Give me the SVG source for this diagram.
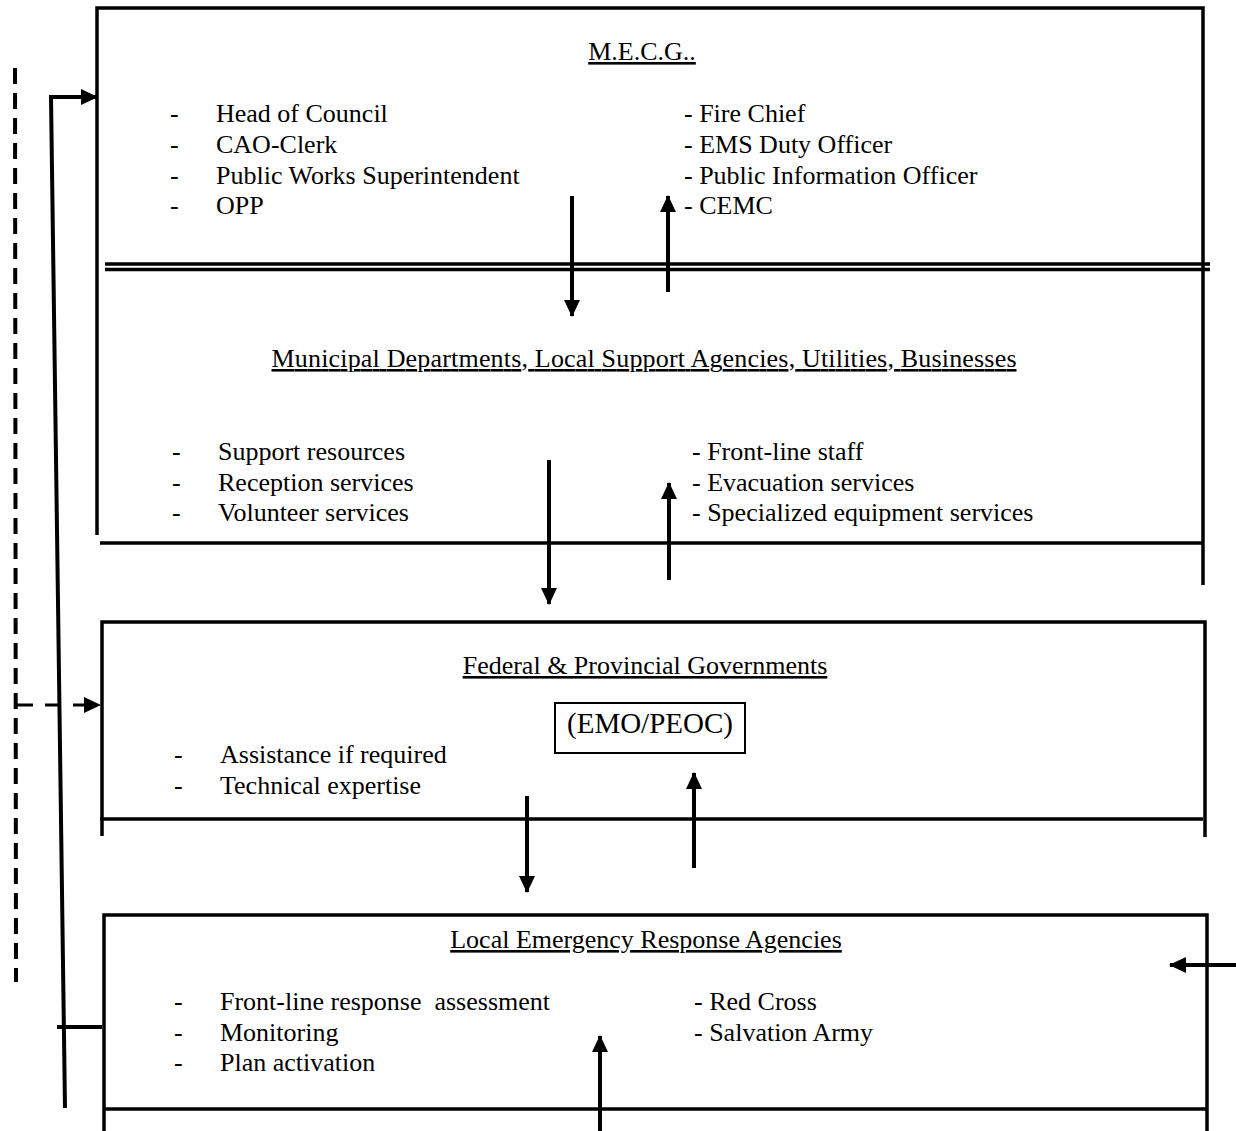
<svg xmlns="http://www.w3.org/2000/svg" width="1236" height="1131" viewBox="0 0 1236 1131">
<style>
text{font-family:"Liberation Serif","Times New Roman",serif;font-size:26px;fill:#000;white-space:pre}
.t{text-decoration:underline;text-anchor:middle}
.b{stroke:#000;stroke-width:3.5;fill:none}
.a{stroke:#000;stroke-width:4;fill:none}
</style>
<defs>
<marker id="ah" markerUnits="userSpaceOnUse" markerWidth="18" markerHeight="18" refX="16" refY="9" orient="auto">
<path d="M0,1 L17,9 L0,17 Z" fill="#000"/>
</marker>
</defs>
<rect width="1236" height="1131" fill="#fff"/>
<g id="mecg">
<path class="b" d="M97,535 V8 H1203 V585"/>
<line class="b" x1="105" y1="264" x2="1210" y2="264"/>
<line class="b" x1="105" y1="269.5" x2="1210" y2="269.5"/>
<text class="t" x="642" y="60">M.E.C.G..</text>
<text x="170" y="122">-</text><text x="216" y="122">Head of Council</text>
<text x="170" y="153">-</text><text x="216" y="153">CAO-Clerk</text>
<text x="170" y="184">-</text><text x="216" y="184">Public Works Superintendent</text>
<text x="170" y="214">-</text><text x="216" y="214">OPP</text>
<text x="684" y="122">- Fire Chief</text>
<text x="684" y="153">- EMS Duty Officer</text>
<text x="684" y="184">- Public Information Officer</text>
<text x="684" y="214">- CEMC</text>
</g>
<g id="municipal">
<line class="b" x1="100" y1="543" x2="1203" y2="543"/>
<text class="t" x="644" y="367" textLength="745">Municipal Departments, Local Support Agencies, Utilities, Businesses</text>
<text x="172" y="460">-</text><text x="218" y="460">Support resources</text>
<text x="172" y="491">-</text><text x="218" y="491">Reception services</text>
<text x="172" y="521">-</text><text x="218" y="521">Volunteer services</text>
<text x="692" y="460">- Front-line staff</text>
<text x="692" y="491">- Evacuation services</text>
<text x="692" y="521">- Specialized equipment services</text>
</g>
<g id="federal">
<path class="b" d="M102,836 V622 H1205 V837"/>
<line class="b" x1="100" y1="819" x2="1203" y2="819"/>
<text class="t" x="645" y="674">Federal &amp; Provincial Governments</text>
<rect x="555" y="703" width="190" height="50" fill="none" stroke="#000" stroke-width="2"/>
<text x="650" y="733" text-anchor="middle" style="font-size:29px">(EMO/PEOC)</text>
<text x="174" y="763">-</text><text x="220" y="763">Assistance if required</text>
<text x="174" y="794">-</text><text x="220" y="794">Technical expertise</text>
</g>
<g id="local">
<path class="b" d="M104,1131 V915 H1207 V1131"/>
<line class="b" x1="104" y1="1109" x2="1207" y2="1109"/>
<text class="t" x="646" y="948">Local Emergency Response Agencies</text>
<text x="174" y="1010">-</text><text x="220" y="1010">Front-line response  assessment</text>
<text x="174" y="1041">-</text><text x="220" y="1041">Monitoring</text>
<text x="174" y="1071">-</text><text x="220" y="1071">Plan activation</text>
<text x="694" y="1010">- Red Cross</text>
<text x="694" y="1041">- Salvation Army</text>
</g>
<g id="connectors">
<line class="a" x1="572" y1="196" x2="572" y2="316" marker-end="url(#ah)"/>
<line class="a" x1="668" y1="292" x2="668" y2="196" marker-end="url(#ah)"/>
<line class="a" x1="549" y1="460" x2="549" y2="604" marker-end="url(#ah)"/>
<line class="a" x1="669" y1="580" x2="669" y2="483" marker-end="url(#ah)"/>
<line class="a" x1="527" y1="796" x2="527" y2="892" marker-end="url(#ah)"/>
<line class="a" x1="694" y1="868" x2="694" y2="773" marker-end="url(#ah)"/>
<line class="a" x1="600" y1="1131" x2="600" y2="1036" marker-end="url(#ah)"/>
<line class="a" x1="1236" y1="965" x2="1170" y2="965" marker-end="url(#ah)"/>
<path class="a" d="M65,1108 L51,97 H97" marker-end="url(#ah)"/>
<line class="a" x1="57" y1="1027" x2="102" y2="1027"/>
<line x1="15" y1="68" x2="16" y2="982" stroke="#000" stroke-width="4" stroke-dasharray="16,9"/>
<line x1="17" y1="705" x2="100" y2="705" stroke="#000" stroke-width="3" stroke-dasharray="16,12" marker-end="url(#ah)"/>
</g>
</svg>
